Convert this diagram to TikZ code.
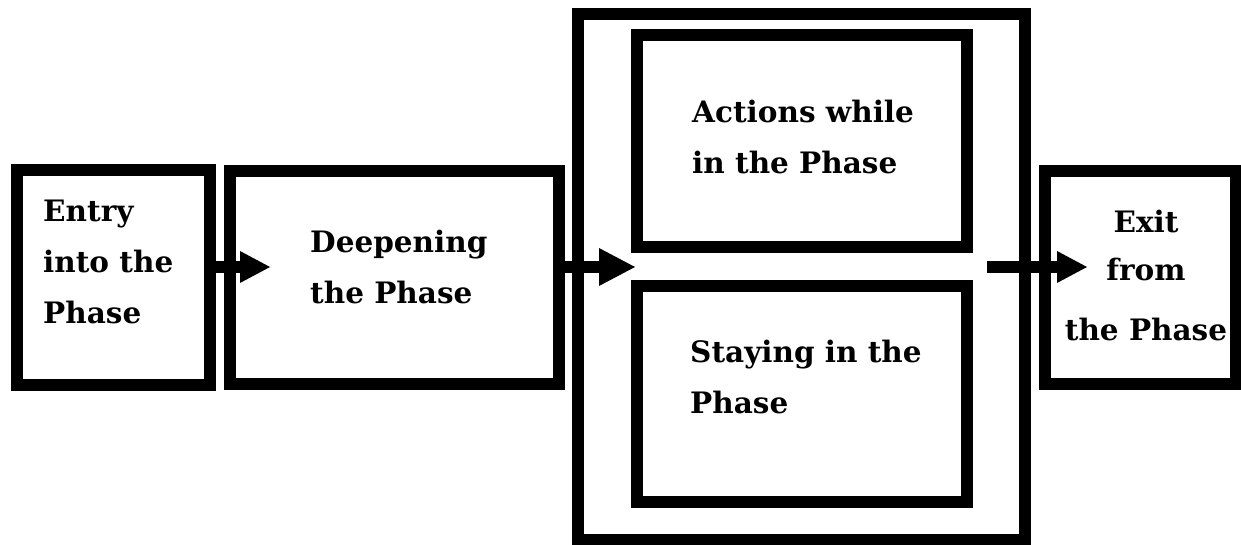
\documentclass[tikz,border=0pt]{standalone}
\usepackage{fontspec}
\setmainfont{DejaVu Serif}
\usetikzlibrary{arrows.meta,calc}
\tikzset{
  phasebox/.style={draw=black, line width=12pt, fill=white, rectangle, inner sep=0pt, line join=miter},
  phasetext/.style={font={\bfseries\fontsize{29.5}{51}\selectfont}, inner sep=0pt, align=left, anchor=north west},
  flow/.style={line width=12pt, -{Triangle[length=30pt,width=32pt,line width=0pt]}},
  bigflow/.style={line width=12pt, -{Triangle[length=36pt,width=38pt,line width=0pt]}},
}
\begin{document}
\begin{tikzpicture}[x=1pt,y=-1pt]
\useasboundingbox[fill=white] (0,0) rectangle (1241,545);
% boxes
\node[phasebox, minimum width=193pt, minimum height=215pt] (entry) at (113.5,277.5) {};
\node[phasebox, minimum width=329pt, minimum height=213pt] (deep) at (394.5,277.5) {};
\node[phasebox, minimum width=447pt, minimum height=526pt] (outer) at (801.5,277) {};
\node[phasebox, minimum width=330pt, minimum height=212pt] (actions) at (802,141) {};
\node[phasebox, minimum width=330pt, minimum height=216pt] (staying) at (802,394) {};
\node[phasebox, minimum width=191pt, minimum height=213pt] (exit) at (1140.5,277.5) {};
% texts
\node[phasetext] (entrytext) at (43,200) {Entry\\into the\\Phase};
\node[phasetext] (deeptext) at (310,230) {Deepening\\the Phase};
\node[phasetext] (actionstext) at (692,100) {Actions while\\in the Phase};
\node[phasetext] (stayingtext) at (690,340) {Staying in the\\Phase};
\node[phasetext, align=center, anchor=north] (exittext) at (1146,210) {Exit\\[-3pt]from\\[9pt]the Phase};
% connectors
\draw[flow] ($(entry.east)+(0pt,10.5pt)$) -- ($(deep.west)+(46pt,10.5pt)$);
\draw[bigflow] ($(deep.east)+(-10pt,10.5pt)$) -- ($(deep.east -| staying.west)+(4pt,10.5pt)$);
\draw[flow] ($(outer.east |- exit.west)+(-44pt,10.5pt)$) -- ($(exit.west)+(48pt,10.5pt)$);
\end{tikzpicture}
\end{document}
